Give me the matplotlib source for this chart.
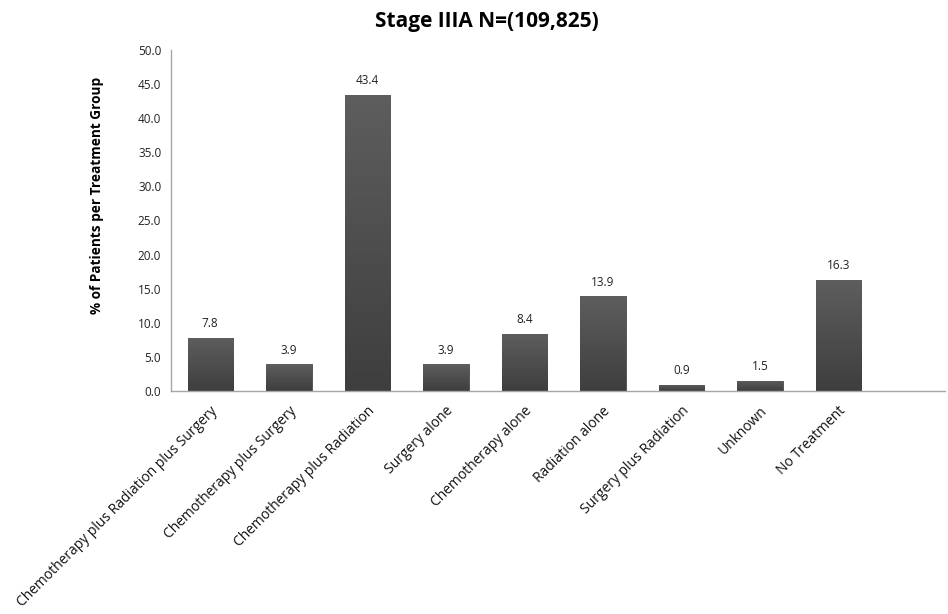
import numpy as np
import matplotlib
matplotlib.use("Agg")
import matplotlib.pyplot as plt
from matplotlib.colors import LinearSegmentedColormap

plt.rcParams['font.family'] = ['Open Sans', 'DejaVu Sans']

categories = [
    "Chemotherapy plus Radiation plus Surgery",
    "Chemotherapy plus Surgery",
    "Chemotherapy plus Radiation",
    "Surgery alone",
    "Chemotherapy alone",
    "Radiation alone",
    "Surgery plus Radiation",
    "Unknown",
    "No Treatment",
]
percentages = [7.8, 3.9, 43.4, 3.9, 8.4, 13.9, 0.9, 1.5, 16.3]
y_ticks = [0, 5, 10, 15, 20, 25, 30, 35, 40, 45, 50]

fig = plt.figure(figsize=(9.48, 6.14), dpi=100)
ax = fig.add_axes([0.1804, 0.3632, 0.8166, 0.5554])

x = np.arange(len(categories))
bars = ax.bar(x, percentages, width=0.58, color="#505050",
              edgecolor="#4a4a4a", linewidth=0.6, zorder=2)

# vertical shading inside each bar: lighter at the top, darker at the base
shade = LinearSegmentedColormap.from_list("shade", ["#3e3e3e", "#5e5e5e"])
grad = np.linspace(0, 1, 256).reshape(-1, 1)
for b in bars:
    x0, y0 = b.get_x(), b.get_y()
    w, h = b.get_width(), b.get_height()
    im = ax.imshow(grad, cmap=shade, origin="lower", aspect="auto",
                   extent=(x0, x0 + w, y0, y0 + h), zorder=2.5)
    im.set_clip_path(b)

for xi, v in zip(x, percentages):
    ax.text(xi, v + 1.1, f"{v:.1f}", ha="center", va="bottom",
            fontsize=8.5, color="#222222")

ax.set_xlim(-0.5, 9.36)
ax.set_ylim(0, 50)
ax.set_yticks(y_ticks)
ax.set_yticklabels([f"{t:.1f}" for t in y_ticks], fontsize=8.5, color="#222222")
ax.set_xticks(x)
ax.set_xticklabels(categories, rotation=45, ha="right", rotation_mode="anchor",
                   fontsize=10, color="#111111")
ax.tick_params(axis="both", length=0, pad=7)
ax.tick_params(axis="x", pad=9)

for side in ("top", "right"):
    ax.spines[side].set_visible(False)
for side in ("left", "bottom"):
    ax.spines[side].set_color("#a6a6a6")
    ax.spines[side].set_linewidth(1.0)

ax.set_ylabel("% of Patients per Treatment Group", fontsize=9.8,
              fontweight="bold")
ax.yaxis.set_label_coords(-0.087, 0.572)
fig.text(0.514, 0.965, "Stage IIIA N=(109,825)", ha="center", va="center",
         fontsize=15, fontweight="bold")

fig.savefig("out.png", dpi=100, facecolor="white")
